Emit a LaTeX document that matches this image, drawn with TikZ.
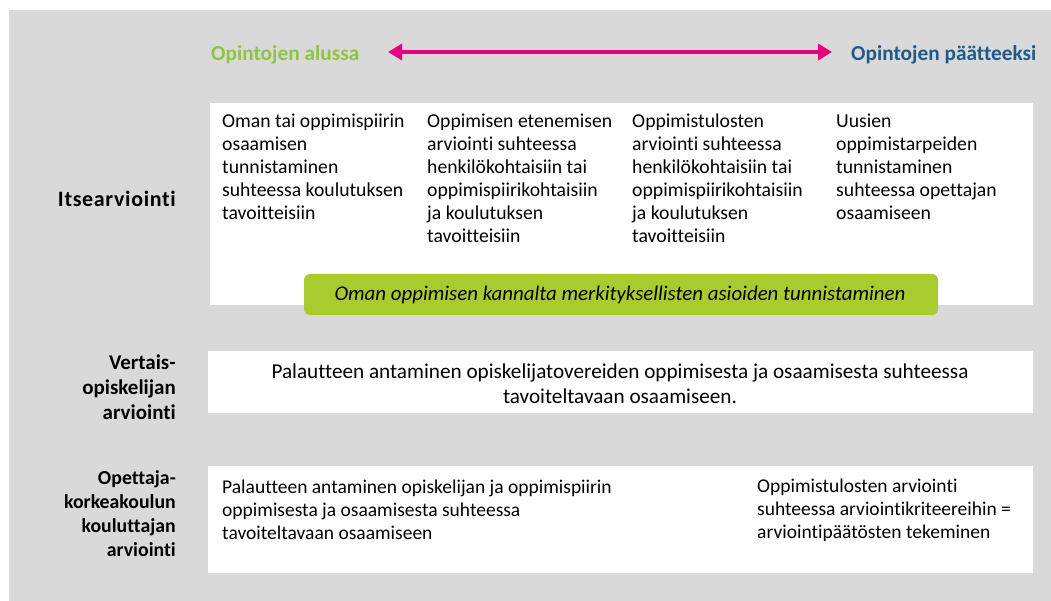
\documentclass[tikz,border=0pt]{standalone}
\usepackage{fontspec}
\setmainfont{Carlito}[Ligatures=NoCommon]
\usetikzlibrary{arrows.meta}
\definecolor{bggray}{HTML}{D9D9D9}
\definecolor{lgreen}{HTML}{A9CB2D}
\definecolor{tgreen}{HTML}{8CC63F}
\definecolor{tblue}{HTML}{1F5A8C}
\definecolor{magenta}{HTML}{E5007D}
\tikzset{
  panel/.style={fill=white, draw=none},
  cell/.style={anchor=north west, inner sep=0pt, align=left, font=\fontsize{19.7}{23}\selectfont},
  rowlabel/.style={anchor=east, inner sep=0pt, align=right, font=\bfseries\fontsize{19.8}{24.5}\selectfont},
  header/.style={inner sep=0pt, font=\bfseries\fontsize{21.3}{24}\selectfont},
  lowcell/.style={inner sep=0pt, anchor=west, align=left, font=\fontsize{19.5}{23}\selectfont},
}
\begin{document}
\begin{tikzpicture}[x=1pt,y=-1pt]
\useasboundingbox (0,0) rectangle (1051,601);
\fill[bggray] (9,10) rectangle (1051,601);
% header
\node[header, text=tgreen, anchor=west] (start) at (211,55) {Opintojen alussa};
\node[header, text=tblue, anchor=west] (end) at (851,55) {Opintojen päätteeksi};
\coordinate (al) at (388,52);
\coordinate (ar) at (832,52);
\draw[magenta, line width=4pt, {Triangle[width=16pt,length=14pt]}-{Triangle[width=16pt,length=14pt]}] (al) -- (ar);
% panels
\fill[panel] (210,103) rectangle (1033,305);
\fill[panel] (208,351) rectangle (1033,413);
\fill[panel] (208,466) rectangle (1033,573);
% row 1
\node[cell] (c1) at (222,113.5) {Oman tai oppimispiirin\\osaamisen\\tunnistaminen\\suhteessa koulutuksen\\tavoitteisiin};
\node[cell] (c2) at (427,113.5) {Oppimisen etenemisen\\arviointi suhteessa\\henkilökohtaisiin tai\\oppimispiirikohtaisiin\\ja koulutuksen\\tavoitteisiin};
\node[cell] (c3) at (632,113.5) {Oppimistulosten\\arviointi suhteessa\\henkilökohtaisiin tai\\oppimispiirikohtaisiin\\ja koulutuksen\\tavoitteisiin};
\node[cell] (c4) at (836,113.5) {Uusien\\oppimistarpeiden\\tunnistaminen\\suhteessa opettajan\\osaamiseen};
\fill[lgreen, rounded corners=6pt] (304,274) rectangle (938,315);
\node[inner sep=0pt, font=\itshape\fontsize{20.9}{24}\selectfont] (g) at (620,295) {Oman oppimisen kannalta merkityksellisten asioiden tunnistaminen};
% row labels
\node[rowlabel, font=\bfseries\fontsize{22}{24}\selectfont\addfontfeature{LetterSpace=3}] (l1) at (176,199) {Itsearviointi};
\node[rowlabel, font=\bfseries\fontsize{21}{25}\selectfont] (l2) at (176,387) {Vertais-\\opiskelijan\\arviointi};
\node[rowlabel, font=\bfseries\fontsize{19.8}{24}\selectfont] (l3) at (176,514) {Opettaja-\\korkeakoulun\\kouluttajan\\arviointi};
% row 2
\node[inner sep=0pt, align=center, font=\fontsize{21.2}{25}\selectfont] (p2) at (620,383.5) {Palautteen antaminen opiskelijatovereiden oppimisesta ja osaamisesta suhteessa\\tavoiteltavaan osaamiseen.};
% row 3
\node[lowcell] (p3a) at (222,510) {Palautteen antaminen opiskelijan ja oppimispiirin\\oppimisesta ja osaamisesta suhteessa\\tavoiteltavaan osaamiseen};
\node[lowcell] (p3b) at (757,510) {Oppimistulosten arviointi\\suhteessa arviointikriteereihin =\\arviointipäätösten tekeminen};
\end{tikzpicture}
\end{document}
